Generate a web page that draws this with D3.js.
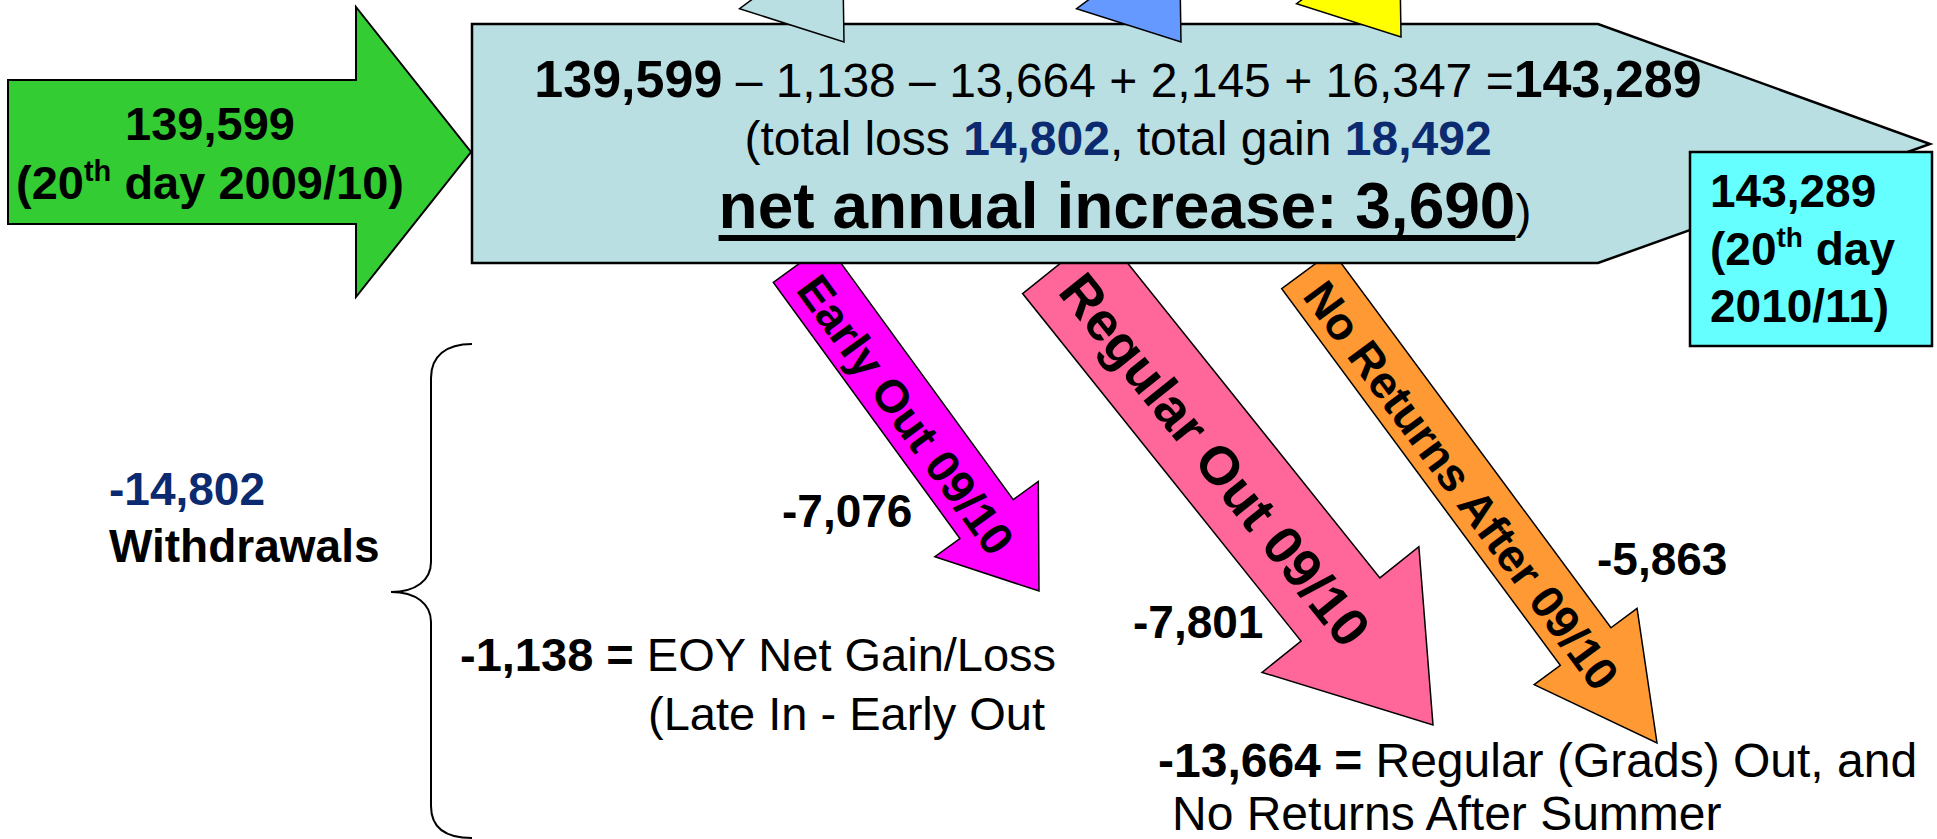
<!DOCTYPE html>
<html>
<head>
<meta charset="utf-8">
<script src="https://cdn.jsdelivr.net/npm/d3@7"></script>
<style>
  body { margin: 0; background: #fff; }
  svg { display: block; font-family: "Liberation Sans", Arial, sans-serif; }
</style>
</head>
<body>
<svg id="flow" width="1937" height="839"></svg>
<script>
// Enrolment figures
const startCount = 139599;
const startYear = "2009/10";
const endYear = "2010/11";
const equationTerms = [139599, -1138, -13664, 2145, 16347];

const withdrawalLabels = ["Early Out 09/10", "Regular Out 09/10", "No Returns After 09/10"];
const withdrawalValues = [-7076, -7801, -5863];
const withdrawalColors = ["#ff00ff", "#ff6699", "#ff9933"];

// gain arrows, cut off by the top edge of the slide
const gainColors = ["#b9dfe3", "#6699ff", "#ffff00"];

const summaryValues = [-1138, -13664];
const summaryFirst = ["EOY Net Gain/Loss", "Regular (Grads) Out, and"];
const summarySecond = ["(Late In - Early Out", "No Returns After Summer"];

const totalLoss = -d3.sum(equationTerms.slice(1).filter(d => d < 0));
const totalGain = d3.sum(equationTerms.slice(1).filter(d => d > 0));
const netIncrease = totalGain - totalLoss;
const endCount = startCount + netIncrease;

const svg = d3.select("#flow");
const W = +svg.attr("width");
const H = +svg.attr("height");

// slide coordinates -> pixels
const x = d3.scaleLinear().domain([0, 1937]).range([0, W]);
const y = d3.scaleLinear().domain([0, 839]).range([0, H]);
const fmt = d3.formatLocale({decimal: ".", thousands: ",", grouping: [3], currency: ["$", ""], minus: "-"}).format(",");
const navy = "#0b2a6f";
const boxBlue = "#b9dfe3";

function arrowShape(len, shaft, head, headLen) {
    const b = len - headLen;
    return d3.line()([[0, -shaft / 2], [b, -shaft / 2], [b, -head / 2], [len, 0],
        [b, head / 2], [b, shaft / 2], [0, shaft / 2]]) + "Z";
}

// Layout of the withdrawal arrows (tail centre, tip, sizes)
const outLayout = [
    {tail: [800, 263], tip: [1039, 591], shaft: 66, head: 128, headLen: 89, font: 46, along: 185, valuePos: [782, 527]},
    {tail: [1062, 262], tip: [1433, 725], shaft: 101, head: 201, headLen: 148, font: 54, along: 250, valuePos: [1133, 638]},
    {tail: [1307, 270], tip: [1657, 743], shaft: 63, head: 128, headLen: 120, font: 46, along: 265, valuePos: [1597, 575]}
];
const inTips = [[844, 42], [1181, 42], [1401, 37]];

// Withdrawal arrows (under the main box)
const outs = svg.append("g").attr("class", "outs")
    .selectAll("g")
    .data(withdrawalLabels.map((d, i) => ({...outLayout[i], label: d, value: withdrawalValues[i], color: withdrawalColors[i]})))
    .enter()
    .append("g")
    .attr("transform", d => {
        const dx = x(d.tip[0]) - x(d.tail[0]), dy = y(d.tip[1]) - y(d.tail[1]);
        d.len = Math.hypot(dx, dy);
        d.angle = Math.atan2(dy, dx) * 180 / Math.PI;
        return `translate(${x(d.tail[0])},${y(d.tail[1])}) rotate(${d.angle})`;
    });

outs.append("path")
    .attr("d", d => arrowShape(d.len, d.shaft, d.head, d.headLen))
    .attr("fill", d => d.color)
    .attr("stroke", "#000")
    .attr("stroke-width", 1.5)
    .attr("stroke-linejoin", "miter");

outs.append("text")
    .attr("x", d => d.along)
    .attr("y", 4)
    .attr("text-anchor", "middle")
    .attr("dominant-baseline", "central")
    .attr("font-weight", "bold")
    .attr("font-size", d => d.font)
    .text(d => d.label);

// value next to each withdrawal arrow
svg.append("g").selectAll("text")
    .data(withdrawalValues)
    .enter()
    .append("text")
    .attr("x", (d, i) => x(outLayout[i].valuePos[0]))
    .attr("y", (d, i) => y(outLayout[i].valuePos[1]))
    .attr("font-weight", "bold")
    .attr("font-size", 46)
    .text(d => fmt(d));

// Starting enrolment arrow
const green = [[8, 80], [356, 80], [356, 7], [471, 152], [356, 297], [356, 224], [8, 224]];
svg.append("path")
    .attr("d", d3.line().x(d => x(d[0])).y(d => y(d[1]))(green) + "Z")
    .attr("fill", "#33cc33")
    .attr("stroke", "#000")
    .attr("stroke-width", 2);

svg.append("text")
    .attr("x", x(210)).attr("y", y(140))
    .attr("text-anchor", "middle")
    .attr("font-weight", "bold").attr("font-size", 47)
    .text(fmt(startCount));

const gText = svg.append("text")
    .attr("x", x(210)).attr("y", y(199))
    .attr("text-anchor", "middle")
    .attr("font-weight", "bold").attr("font-size", 47);
gText.append("tspan").text("(20");
gText.append("tspan").attr("dy", -18).attr("font-size", 29).text("th");
gText.append("tspan").attr("dy", 18).text(" day " + startYear + ")");

// Main box (chevron)
const box = [[472, 24], [1598, 24], [1930, 144], [1598, 263], [472, 263]];
svg.append("path")
    .attr("d", d3.line().x(d => x(d[0])).y(d => y(d[1]))(box) + "Z")
    .attr("fill", boxBlue)
    .attr("stroke", "#000")
    .attr("stroke-width", 2.5);

const cx = x(1118);

// equation line
const eq = svg.append("text")
    .attr("x", cx).attr("y", y(97))
    .attr("text-anchor", "middle")
    .attr("font-size", 48);
eq.append("tspan").attr("font-weight", "bold").attr("font-size", 52).text(fmt(equationTerms[0]));
equationTerms.slice(1).forEach(v => {
    eq.append("tspan").text((v < 0 ? " \u2013 " : " + ") + fmt(Math.abs(v)));
});
eq.append("tspan").text(" =");
eq.append("tspan").attr("font-weight", "bold").attr("font-size", 52).text(fmt(endCount));

// totals line
const tot = svg.append("text")
    .attr("x", cx).attr("y", y(155))
    .attr("text-anchor", "middle")
    .attr("font-size", 48);
tot.append("tspan").text("(total loss ");
tot.append("tspan").attr("font-weight", "bold").attr("fill", navy).text(fmt(totalLoss));
tot.append("tspan").text(", total gain ");
tot.append("tspan").attr("font-weight", "bold").attr("fill", navy).text(fmt(totalGain));

// net increase line
const netStr = "net annual increase: " + fmt(netIncrease);
const net = svg.append("text")
    .attr("x", x(1125)).attr("y", y(228))
    .attr("text-anchor", "middle");
net.append("tspan").attr("font-weight", "bold").attr("font-size", 64).text(netStr);
net.append("tspan").attr("font-size", 48).text(")");

const uStart = net.node().getStartPositionOfChar(0).x;
const uEnd = net.node().getEndPositionOfChar(netStr.length - 1).x;
svg.append("rect")
    .attr("x", uStart).attr("y", y(235))
    .attr("width", uEnd - uStart).attr("height", 6)
    .attr("fill", "#000");

// Gain arrows coming in from the top (drawn over the box)
const inAngle = 53.4;
const inLen = 320;
const ins = svg.append("g").selectAll("g")
    .data(gainColors)
    .enter()
    .append("g")
    .attr("transform", (d, i) => {
        const r = inAngle * Math.PI / 180;
        const tx = x(inTips[i][0]) - inLen * Math.cos(r);
        const ty = y(inTips[i][1]) - inLen * Math.sin(r);
        return `translate(${tx},${ty}) rotate(${inAngle})`;
    });
ins.append("path")
    .attr("d", arrowShape(inLen, 66, 128, 89))
    .attr("fill", d => d)
    .attr("stroke", "#000")
    .attr("stroke-width", 1.5);

// End enrolment box
svg.append("rect")
    .attr("x", x(1690)).attr("y", y(152))
    .attr("width", x(1932) - x(1690)).attr("height", y(346) - y(152))
    .attr("fill", "#66ffff")
    .attr("stroke", "#000")
    .attr("stroke-width", 2.5);

const endG = svg.append("g")
    .attr("font-weight", "bold").attr("font-size", 46);
endG.append("text").attr("x", x(1710)).attr("y", y(207)).text(fmt(endCount));
const eText = endG.append("text").attr("x", x(1710)).attr("y", y(265));
eText.append("tspan").text("(20");
eText.append("tspan").attr("dy", -18).attr("font-size", 28).text("th");
eText.append("tspan").attr("dy", 18).text(" day");
endG.append("text").attr("x", x(1710)).attr("y", y(322)).text(endYear + ")");

// Withdrawals total and brace
svg.append("text")
    .attr("x", x(109)).attr("y", y(505))
    .attr("font-weight", "bold").attr("font-size", 46)
    .attr("fill", navy)
    .text(fmt(-totalLoss));
svg.append("text")
    .attr("x", x(109)).attr("y", y(562))
    .attr("font-weight", "bold").attr("font-size", 46)
    .text("Withdrawals");

const brace = d3.path();
brace.moveTo(x(472), y(344));
brace.bezierCurveTo(x(446), y(344), x(431), y(356), x(431), y(378));
brace.lineTo(x(431), y(562));
brace.bezierCurveTo(x(431), y(580), x(416), y(592), x(391), y(592));
brace.bezierCurveTo(x(416), y(592), x(431), y(604), x(431), y(622));
brace.lineTo(x(431), y(806));
brace.bezierCurveTo(x(431), y(828), x(446), y(838), x(472), y(838));
svg.append("path")
    .attr("d", brace.toString())
    .attr("fill", "none")
    .attr("stroke", "#000")
    .attr("stroke-width", 2);

// Summary notes
const notePos = [{a: [460, 671], b: [648, 730], size: 47}, {a: [1158, 777], b: [1172, 830], size: 48}];
summaryValues.forEach((v, i) => {
    const p = notePos[i];
    const t = svg.append("text")
        .attr("x", x(p.a[0])).attr("y", y(p.a[1]))
        .attr("font-size", p.size);
    t.append("tspan").attr("font-weight", "bold").text(fmt(v) + " =");
    t.append("tspan").text(" " + summaryFirst[i]);
    svg.append("text")
        .attr("x", x(p.b[0])).attr("y", y(p.b[1]))
        .attr("font-size", p.size)
        .text(summarySecond[i]);
});
</script>
</body>
</html>
